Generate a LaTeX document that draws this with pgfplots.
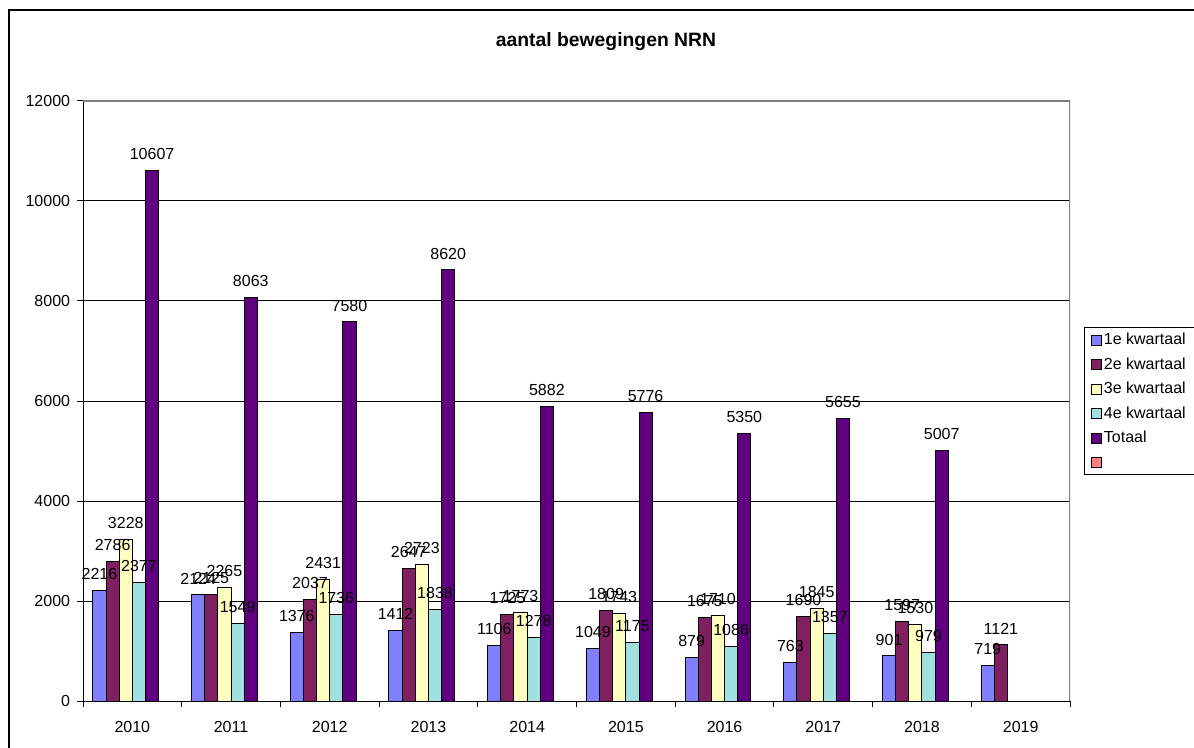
\documentclass[border=0pt]{standalone}
\usepackage{pgfplots}
\pgfplotsset{compat=1.18}
\usepackage{fontspec}
\setmainfont{Liberation Sans}
\definecolor{c1}{HTML}{8080FF}
\definecolor{c2}{HTML}{802060}
\definecolor{c3}{HTML}{FFFFC0}
\definecolor{c4}{HTML}{A0E0E0}
\definecolor{c5}{HTML}{600080}
\definecolor{c6}{HTML}{FF8080}
\pgfplotsset{leg/.style={legend image code/.code={\draw[##1,draw=black,line width=0.75pt] (0pt,-3.75pt) rectangle (7.5pt,3.75pt);}}}
\begin{document}
\begin{tikzpicture}[x=0.75pt,y=0.75pt]
\useasboundingbox (0,0) rectangle (1194,747);
\draw[line width=1.5pt] (9,-30) rectangle (1230,737);
\node[font=\fontsize{14.5}{17}\selectfont\bfseries] at (606,705) {aantal bewegingen NRN};
\draw[line width=0.75pt] (1084,420) rectangle (1260,273);
\begin{axis}[
  at={(62.25pt,34.5pt)}, anchor=south west,
  scale only axis, width=740.25pt, height=450pt,
  xmin=-0.5, xmax=9.5, ymin=0, ymax=12000,
  axis x line*=bottom, axis y line*=left,
  axis line style={line width=0.75pt, black, -},
  ytick={0,2000,...,12000},
  xtick={0,...,9},
  xticklabels={2010,2011,2012,2013,2014,2015,2016,2017,2018,2019},
  minor xtick={-0.5,0.5,...,9.5},
  major x tick style={draw=none},
  tick align=outside,
  major tick length=4.5pt, minor tick length=4.5pt,
  tick style={black, line width=0.75pt},
  ymajorgrids, grid style={black, line width=0.75pt},
  scaled y ticks=false,
  /pgf/number format/1000 sep={},
  /pgf/number format/assume math mode=true,
  ticklabel style={font=\fontsize{12}{14}\selectfont},
  yticklabel style={inner sep=0pt, xshift=-5pt},
  xticklabel style={inner sep=0pt, yshift=-10.5pt},
  ybar, bar width=9.87pt,
  nodes near coords,
  nodes near coords style={font=\fontsize{12}{14}\selectfont, inner ysep=0pt, inner xsep=0pt, yshift=7.7pt, black},
  legend style={at={(axis description cs:1.0216,0.6221)}, anchor=north west, draw=none, fill=none,
    inner sep=0pt, outer sep=0pt, font=\fontsize{12}{14}\selectfont, row sep=0pt, column sep=0pt,
    nodes={inner ysep=0pt, inner xsep=1.2pt, minimum height=18.4pt}},
  legend cell align=left,
]
\addplot[fill=c1, draw=black, line width=0.75pt, bar shift=-24.675pt, leg] coordinates {
(0,2216) (1,2124) (2,1376) (3,1412) (4,1106) (5,1049) (6,879) (7,763) (8,901) (9,719)};
\addlegendentry{1e kwartaal}
\addplot[fill=c2, draw=black, line width=0.75pt, bar shift=-14.805pt, leg] coordinates {
(0,2786) (1,2125) (2,2037) (3,2647) (4,1725) (5,1809) (6,1675) (7,1690) (8,1597) (9,1121)};
\addlegendentry{2e kwartaal}
\addplot[fill=c3, draw=black, line width=0.75pt, bar shift=-4.935pt, leg] coordinates {
(0,3228) (1,2265) (2,2431) (3,2723) (4,1773) (5,1743) (6,1710) (7,1845) (8,1530)};
\addlegendentry{3e kwartaal}
\addplot[fill=c4, draw=black, line width=0.75pt, bar shift=4.935pt, leg] coordinates {
(0,2377) (1,1549) (2,1736) (3,1838) (4,1278) (5,1175) (6,1086) (7,1357) (8,979)};
\addlegendentry{4e kwartaal}
\addplot[fill=c5, draw=black, line width=0.75pt, bar shift=14.805pt, leg] coordinates {
(0,10607) (1,8063) (2,7580) (3,8620) (4,5882) (5,5776) (6,5350) (7,5655) (8,5007)};
\addlegendentry{Totaal}
\addlegendimage{fill=c6, draw=black, leg}
\addlegendentry{\hphantom{T}}
\draw[gray, line width=1.1pt] (rel axis cs:0,1) -- (rel axis cs:1,1) -- (rel axis cs:1,0);
\end{axis}
\end{tikzpicture}
\end{document}
